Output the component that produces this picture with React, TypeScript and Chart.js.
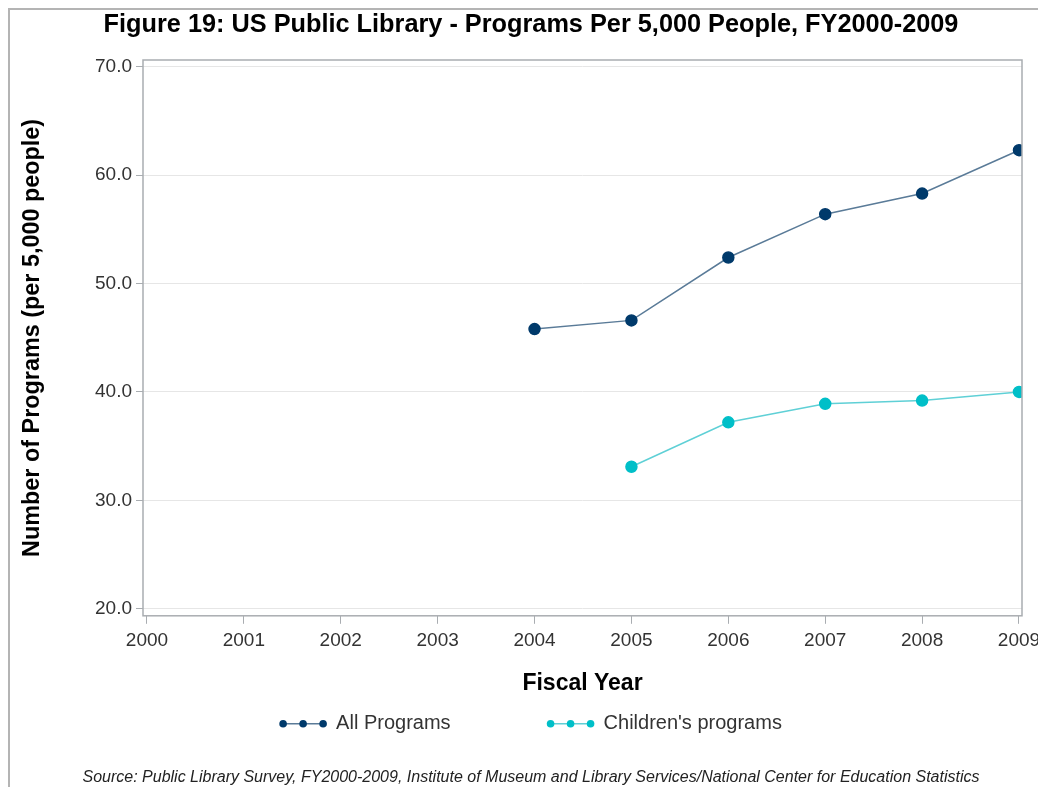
import React, { useEffect, useRef } from 'react';
import { Chart, registerables } from 'chart.js';

Chart.register(...registerables);

// ---- data ----
const years = [2000, 2001, 2002, 2003, 2004, 2005, 2006, 2007, 2008, 2009];
const allPrograms = [null, null, null, null, 45.8, 46.6, 52.4, 56.4, 58.3, 62.3];
const childrensPrograms = [null, null, null, null, null, 33.1, 37.2, 38.9, 39.2, 40.0];
const yTicks = [20, 30, 40, 50, 60, 70];
const seriesLabels = ['All Programs', "Children's programs"];
const titleText = 'Figure 19: US Public Library - Programs Per 5,000 People, FY2000-2009';
const xTitle = 'Fiscal Year';
const yTitle = 'Number of Programs (per 5,000 people)';
const sourceText =
  'Source: Public Library Survey, FY2000-2009, Institute of Museum and Library Services/National Center for Education Statistics';

const FONT = "'Liberation Sans', Arial, Helvetica, sans-serif";
const FRAME = '#a9adb1';

const toPoints = (vals: (number | null)[]) =>
  years.map((x, i) => ({ x, y: vals[i] }));

const plotFrame = {
  id: 'plotFrame',
  afterDatasetsDraw(chart: any) {
    const { ctx, chartArea: a } = chart;
    ctx.save();
    ctx.strokeStyle = FRAME;
    ctx.lineWidth = 1.5;
    ctx.strokeRect(a.left, a.top, a.right - a.left, a.bottom - a.top);
    ctx.restore();
  },
};

const lineLegend = {
  id: 'lineLegend',
  afterDraw(chart: any) {
    const ctx = chart.ctx;
    ctx.save();
    ctx.font = `20px ${FONT}`;
    const markerW = 46;
    const textGap = 10;
    const itemGap = 97;
    const items = chart.data.datasets.map((ds: any) => ({
      ds,
      tw: ctx.measureText(ds.label).width,
    }));
    const total = items.reduce(
      (s: number, it: any, i: number) => s + markerW + textGap + it.tw + (i ? itemGap : 0),
      0
    );
    let x = chart.width / 2 - total / 2;
    const y = chart.scales.x.bottom + 18;
    items.forEach((it: any) => {
      ctx.strokeStyle = it.ds.borderColor;
      ctx.lineWidth = 1.5;
      ctx.beginPath();
      ctx.moveTo(x, y);
      ctx.lineTo(x + markerW, y);
      ctx.stroke();
      ctx.fillStyle = it.ds.pointBackgroundColor;
      [x + 3, x + markerW / 2, x + markerW - 3].forEach((cx) => {
        ctx.beginPath();
        ctx.arc(cx, y, 3.8, 0, Math.PI * 2);
        ctx.fill();
      });
      ctx.fillStyle = '#333';
      ctx.textBaseline = 'middle';
      ctx.textAlign = 'left';
      ctx.fillText(it.ds.label, x + markerW + textGap, y);
      x += markerW + textGap + it.tw + itemGap;
    });
    ctx.restore();
  },
};

export default function App() {
  const ref = useRef<HTMLCanvasElement | null>(null);

  useEffect(() => {
    if (!ref.current) return;
    const chart = new Chart(ref.current, {
      type: 'line',
      data: {
        datasets: [
          {
            label: seriesLabels[0],
            data: toPoints(allPrograms),
            borderColor: '#5a7b98',
            backgroundColor: '#003a6b',
            pointBackgroundColor: '#003a6b',
            pointBorderColor: '#003a6b',
            pointRadius: 5.5,
            borderWidth: 1.5,
            clip: 0,
          },
          {
            label: seriesLabels[1],
            data: toPoints(childrensPrograms),
            borderColor: '#5fd0d6',
            backgroundColor: '#00bfc8',
            pointBackgroundColor: '#00bfc8',
            pointBorderColor: '#00bfc8',
            pointRadius: 5.5,
            borderWidth: 1.5,
            clip: 0,
          },
        ] as any,
      },
      options: {
        responsive: false,
        maintainAspectRatio: false,
        animation: false,
        events: [],
        layout: { padding: { left: 30, right: 30, top: 0, bottom: 0 } },
        plugins: {
          legend: { display: false },
          tooltip: { enabled: false },
          title: {
            display: true,
            text: titleText,
            color: '#000',
            font: { family: FONT, size: 25.3, weight: 'bold', lineHeight: 1 },
            padding: { top: 2, bottom: 22.7 },
          },
          subtitle: {
            display: true,
            position: 'bottom',
            text: sourceText,
            color: '#222',
            font: { family: FONT, size: 16, style: 'italic', lineHeight: 1.2 },
            padding: { top: 62, bottom: 0 },
          },
        },
        scales: {
          x: {
            type: 'linear',
            min: 1999.959,
            max: 2009.031,
            afterBuildTicks: (s: any) => {
              s.ticks = years.map((v) => ({ value: v }));
            },
            afterFit: (s: any) => {
              s.height = 90;
            },
            ticks: {
              callback: (v: any) => String(v),
              color: '#333',
              font: { family: FONT, size: 19 },
              padding: 6,
              maxRotation: 0,
              autoSkip: false,
            },
            grid: { drawOnChartArea: false, drawTicks: true, tickLength: 8, tickColor: FRAME },
            border: { display: false },
            title: {
              display: true,
              text: xTitle,
              color: '#000',
              font: { family: FONT, size: 23, weight: 'bold', lineHeight: 1.2 },
              padding: { top: 0, bottom: 8 },
            },
          },
          y: {
            type: 'linear',
            min: 19.35,
            max: 70.62,
            afterBuildTicks: (s: any) => {
              s.ticks = yTicks.map((v) => ({ value: v }));
            },
            afterFit: (s: any) => {
              s.width = 103;
            },
            ticks: {
              callback: (v: any) => Number(v).toFixed(1),
              color: '#333',
              font: { family: FONT, size: 19 },
              padding: 4,
            },
            grid: { color: '#e6e6e6', lineWidth: 1, tickLength: 7, tickColor: FRAME },
            border: { display: false },
            title: {
              display: true,
              text: yTitle,
              color: '#000',
              font: { family: FONT, size: 23.4, weight: 'bold', lineHeight: 1.2 },
              padding: { top: -21, bottom: 0 },
            },
          },
        },
      } as any,
      plugins: [plotFrame, lineLegend],
    });
    return () => chart.destroy();
  }, []);

  return (
    <div
      style={{
        position: 'absolute',
        left: 8,
        top: 8,
        width: 1030,
        height: 779,
        boxSizing: 'border-box',
        borderLeft: '2px solid #b4b4b4',
        borderTop: '2px solid #b4b4b4',
        overflow: 'hidden',
        background: '#fff',
      }}
    >
      <canvas ref={ref} width={1042} height={777} style={{ display: 'block' }} />
    </div>
  );
}
